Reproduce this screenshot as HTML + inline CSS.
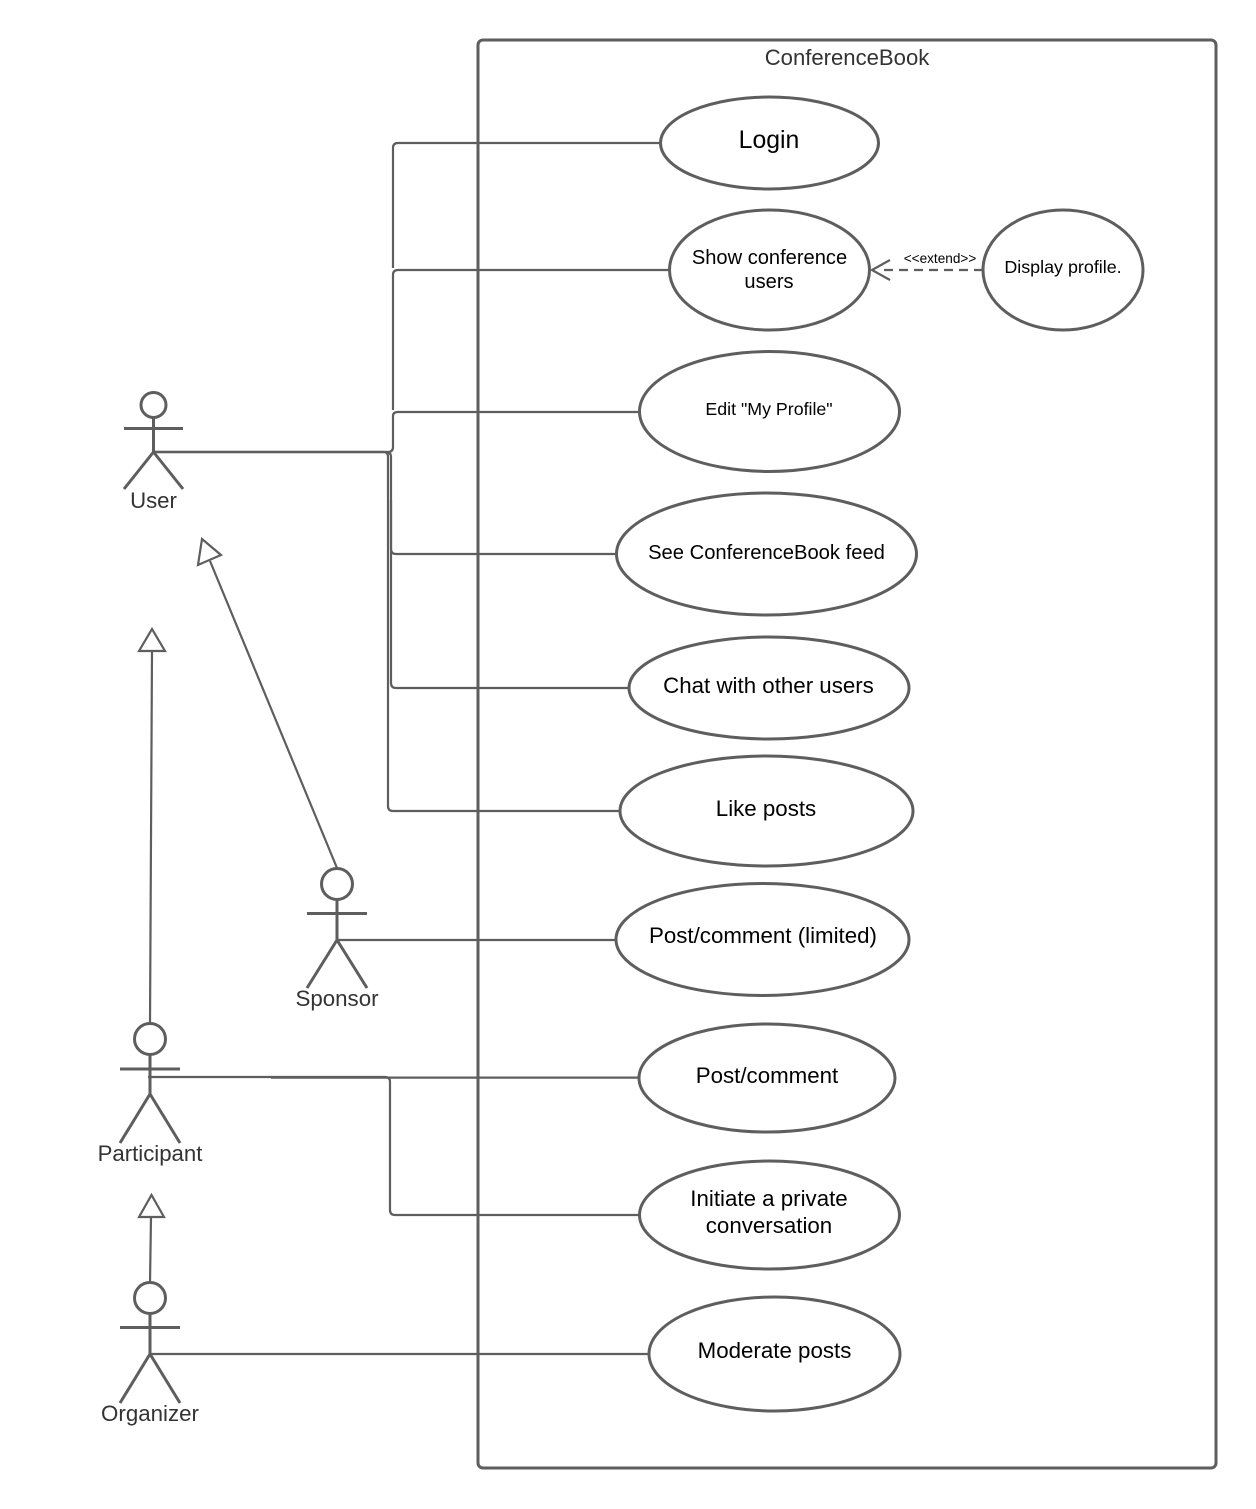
<!DOCTYPE html>
<html>
<head>
<meta charset="utf-8">
<style>
html,body{margin:0;padding:0;background:#fff}
svg{display:block}
text{font-family:"Liberation Sans",sans-serif;text-anchor:middle}
.l{fill:none;stroke:#5e5e5e;stroke-width:2.2}
.e{fill:#fff;stroke:#5e5e5e;stroke-width:3}
.a{fill:none;stroke:#5e5e5e;stroke-width:3}
.t{fill:#000}
.n{fill:#333}
</style>
</head>
<body>
<svg width="1256" height="1509" viewBox="0 0 1256 1509" xmlns="http://www.w3.org/2000/svg">
<rect x="478" y="40" width="738" height="1428" rx="5" fill="#fff" stroke="#5e5e5e" stroke-width="3"/>
<text x="847" y="65" font-size="22.100" class="n">ConferenceBook</text>

<!-- connectors -->
<path class="l" d="M154 452H388Q393 452 393 447V416Q393 412 398 412H639"/>
<path class="l" d="M393 410V275Q393 270 398 270H669"/>
<path class="l" d="M393 268V148Q393 143 398 143H660"/>
<path class="l" d="M154 452H386Q391 452 391 457V549Q391 554 396 554H616"/>
<path class="l" d="M391 500V683Q391 688 396 688H629"/>
<path class="l" d="M154 452H384Q388 452 388 457V806Q388 811 393 811H620"/>
<path class="l" d="M337 940H616"/>
<path class="l" d="M148 1077H385Q390 1077 390 1082V1210Q390 1215 395 1215H639"/>
<path class="l" d="M271 1077.600H639"/>
<path class="l" d="M150 1354H649"/>

<!-- generalization -->
<path class="l" d="M337 868L210 561"/>
<path d="M198 565L202 539L221 555Z" fill="#fff" stroke="#5e5e5e" stroke-width="2.2"/>
<path class="l" d="M150 1024L152 651"/>
<path d="M139 651L152 629L165 651Z" fill="#fff" stroke="#5e5e5e" stroke-width="2.2"/>
<path class="l" d="M150 1283L151 1217"/>
<path d="M139 1217L151.500 1195L164 1217Z" fill="#fff" stroke="#5e5e5e" stroke-width="2.2"/>

<!-- extend -->
<path class="l" d="M983 270H878" stroke-dasharray="9 6"/>
<path class="l" d="M890 260L872 270L890 280"/>
<text x="940" y="263" font-size="13.600" class="t">&lt;&lt;extend&gt;&gt;</text>

<!-- use cases -->
<ellipse class="e" cx="769.500" cy="143" rx="109" ry="46"/>
<text x="769" y="148" font-size="24.800" class="t">Login</text>
<ellipse class="e" cx="769.500" cy="270" rx="100" ry="60"/>
<text x="769.500" y="264" font-size="20.100" class="t">Show conference</text>
<text x="769" y="288" font-size="20.100" class="t">users</text>
<ellipse class="e" cx="1063" cy="270" rx="80" ry="60"/>
<text x="1063" y="273" font-size="17.900" class="t">Display profile.</text>
<ellipse class="e" cx="769.500" cy="411.500" rx="130" ry="60"/>
<text x="769" y="415" font-size="17.800" class="t">Edit "My Profile"</text>
<ellipse class="e" cx="766.500" cy="554" rx="150" ry="61"/>
<text x="766.500" y="559" font-size="20.200" class="t">See ConferenceBook feed</text>
<ellipse class="e" cx="769" cy="688" rx="140" ry="51"/>
<text x="768.500" y="693" font-size="22.300" class="t">Chat with other users</text>
<ellipse class="e" cx="766.500" cy="811" rx="146.500" ry="55"/>
<text x="766" y="816" font-size="22.300" class="t">Like posts</text>
<ellipse class="e" cx="762.500" cy="939.500" rx="146.500" ry="56"/>
<text x="763" y="943" font-size="22.300" class="t">Post/comment (limited)</text>
<ellipse class="e" cx="767" cy="1078" rx="128" ry="54"/>
<text x="767" y="1083" font-size="22.300" class="t">Post/comment</text>
<ellipse class="e" cx="769.500" cy="1215" rx="130" ry="54"/>
<text x="769" y="1206" font-size="22.300" class="t">Initiate a private</text>
<text x="769" y="1233" font-size="22.300" class="t">conversation</text>
<ellipse class="e" cx="774.500" cy="1354" rx="125.500" ry="57"/>
<text x="774.500" y="1358" font-size="22.300" class="t">Moderate posts</text>

<!-- actors -->
<g class="a">
<circle cx="153.500" cy="405" r="12.500"/>
<path d="M153.500 417.500V452M124 428.500H183M153.500 452L124 489M153.500 452L183 489"/>
<circle cx="337" cy="884" r="15.500"/>
<path d="M337 899.500V940M307 913.500H367M337 940L307 988M337 940L367 988"/>
<circle cx="150" cy="1039" r="15.500"/>
<path d="M150 1054.500V1094M120 1069H180M150 1094L120 1143M150 1094L180 1143"/>
<circle cx="150" cy="1298" r="15.500"/>
<path d="M150 1313.500V1354M120 1327.500H180M150 1354L120 1403M150 1354L180 1403"/>
</g>
<text x="153.500" y="508" font-size="22.200" class="n">User</text>
<text x="337" y="1006" font-size="22.300" class="n">Sponsor</text>
<text x="150" y="1161" font-size="22.200" class="n">Participant</text>
<text x="150" y="1421" font-size="22.300" class="n">Organizer</text>
</svg>
</body>
</html>
